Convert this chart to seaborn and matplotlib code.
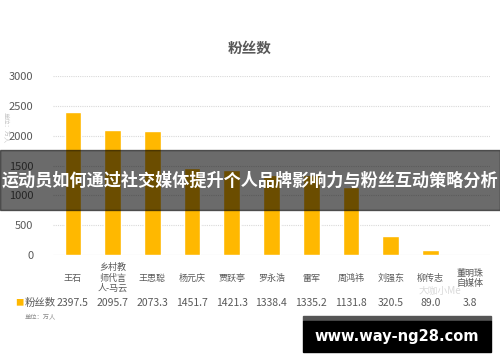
import matplotlib
matplotlib.use('Agg')
import matplotlib.pyplot as plt
import seaborn as sns
import pandas as pd
from matplotlib.patches import Rectangle

# data
names = ['王石', '乡村教\n师代言\n人-马云', '王思聪', '杨元庆', '贾跃亭', '罗永浩',
         '雷军', '周鸿祎', '刘强东', '柳传志', '董明珠\n自媒体']
fans = [2397.5, 2095.7, 2073.3, 1451.7, 1421.3, 1338.4, 1335.2, 1131.8, 320.5, 89.0, 3.8]
fan_labels = ['2397.5', '2095.7', '2073.3', '1451.7', '1421.3', '1338.4',
              '1335.2', '1131.8', '320.5', '89.0', '3.8']
yticks = [0, 500, 1000, 1500, 2000, 2500, 3000]

BAR = '#FFB800'
GREY = '#595959'

sns.set_style('white')
plt.rcParams['font.family'] = ['Noto Sans CJK SC', 'DejaVu Sans']

df = pd.DataFrame({'name': names, 'fans': fans})

fig = plt.figure(figsize=(5, 3.62), dpi=100)
ax = fig.add_axes([0.106, 0.2956, 0.874, 0.4944])
sns.barplot(data=df, x='name', y='fans', color=BAR, width=0.42, saturation=1, ax=ax)

ax.set_ylim(0, 3000)
ax.set_xlim(-0.5, len(names) - 0.5)
ax.set_yticks(yticks)
ax.set_yticklabels([str(t) for t in yticks], color=GREY, fontsize=8)
ax.tick_params(axis='y', length=0, pad=14)
ax.set_xticks(range(len(names)))
ax.set_xticklabels([])
ax.tick_params(axis='x', length=0)
ax.set_xlabel('')
ax.set_ylabel('')
for s in ax.spines.values():
    s.set_visible(False)
for t in yticks[1:]:
    ax.axhline(t, color='#d9d9d9', lw=0.8, ls=(0, (1, 1)), zorder=0)
ax.axhline(0, color='#d9d9d9', lw=0.8, zorder=0)

# category labels and data table
for i, (n, v) in enumerate(zip(names, fan_labels)):
    ax.text(i, -0.13, n, transform=ax.get_xaxis_transform(), ha='center', va='center',
            fontsize=6.5, color=GREY, linespacing=1.2)
    ax.text(i, -0.27, v, transform=ax.get_xaxis_transform(), ha='center', va='center',
            fontsize=7.5, color=GREY)
fig.text(0.03, 1 - 303 / 362, '■', color=BAR, fontsize=6, ha='left', va='center')
fig.text(0.05, 1 - 303 / 362, '粉丝数', color=GREY, fontsize=7.5, ha='left', va='center')
fig.text(0.05, 1 - 316 / 362, '单位：万人', color='#8c8c8c', fontsize=4.5, ha='left', va='center')
fig.text(0.012, 1 - 128 / 362, '单位：万人', color='#c8c8c8', fontsize=4.5, rotation=270,
         ha='center', va='center')

fig.text(0.5, 1 - 48 / 362, '粉丝数', color=GREY, fontsize=10.5, fontweight='bold',
         ha='center', va='center')

# watermark
fig.text(0.88, 1 - 291 / 362, '大咖小Me', color='#d0d0d0', fontsize=7, ha='center',
         va='center', alpha=0.8)

# dark overlay with headline
fig.patches.append(Rectangle((0, 1 - 210 / 362), 1, 60 / 362, transform=fig.transFigure,
                             color='black', alpha=0.58, zorder=5))
fig.text(0.5, 1 - 181 / 362, '运动员如何通过社交媒体提升个人品牌影响力与粉丝互动策略分析',
         color='white', fontsize=12.3, fontweight='bold', ha='center', va='center', zorder=6)

# url box
fig.patches.append(Rectangle((303 / 500, 1 - 321 / 362), 188 / 500, 5 / 362,
                             transform=fig.transFigure, color='#555555', zorder=5))
fig.patches.append(Rectangle((303 / 500, 1 - 352 / 362), 188 / 500, 31 / 362,
                             transform=fig.transFigure, color='black', zorder=5))
fig.text(397 / 500, 1 - 336 / 362, 'www.way-ng28.com', color='white', fontsize=10.5,
         fontweight='bold', family='DejaVu Sans', ha='center', va='center', zorder=6)

fig.savefig('out.png', dpi=100)
